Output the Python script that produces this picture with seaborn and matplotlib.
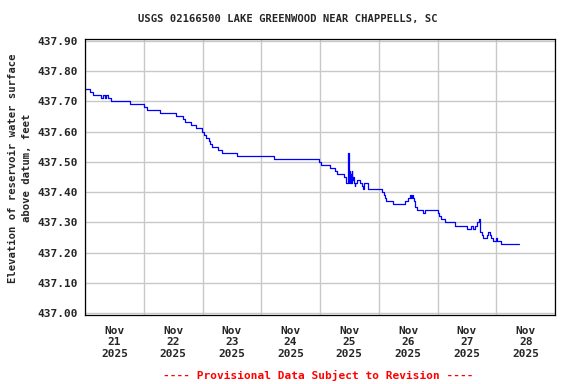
import pandas as pd
import matplotlib
matplotlib.use("Agg")
import matplotlib.pyplot as plt
import matplotlib.dates as mdates
import seaborn as sns

# ---------- Data ----------

START = pd.Timestamp("2025-11-21 00:00")

# hours after START where the stage changes, and the stage (ft) from then on
hours = [
    0.0, 2.0, 3.25, 6.5, 7.25, 8.0, 8.75, 9.25, 10.5, 18.25,
    24.0, 25.25, 30.5, 37.0, 40.0, 41.0, 43.25, 45.5, 47.75,
    48.5, 49.5, 50.5, 51.25, 52.0, 54.25, 56.0, 62.0, 77.25,
    95.5, 96.5, 100.0, 102.0, 102.75, 106.0, 106.5, 106.75,
    107.25, 107.5, 107.75, 108.0, 108.25, 108.5, 108.75, 109.0,
    109.25, 109.5, 109.75, 110.25, 110.5, 111.25, 112.25, 113.0,
    113.5, 114.0, 115.5, 121.25, 122.0, 122.5, 123.0, 126.0,
    130.75, 131.75, 132.75, 133.0, 133.75, 134.0, 134.5, 135.0,
    135.5, 138.25, 139.0, 144.0, 144.5, 145.25, 147.25, 151.0,
    156.0, 157.75, 158.5, 159.5, 160.25, 160.75, 161.25, 161.5,
    162.0, 162.5, 164.25, 164.75, 165.5, 166.0, 166.75, 168.0,
    168.5, 170.0, 177.25,
]
elevation_ft = [
    437.74, 437.73, 437.72, 437.71, 437.72, 437.71, 437.72, 437.71, 437.70, 437.69,
    437.68, 437.67, 437.66, 437.65, 437.64, 437.63, 437.62, 437.61, 437.60,
    437.59, 437.58, 437.57, 437.56, 437.55, 437.54, 437.53, 437.52, 437.51,
    437.50, 437.49, 437.48, 437.47, 437.46, 437.45, 437.44, 437.43,
    437.48, 437.53, 437.43, 437.47, 437.43, 437.46, 437.43, 437.47,
    437.44, 437.45, 437.43, 437.42, 437.43, 437.44, 437.43, 437.42,
    437.41, 437.43, 437.41, 437.40, 437.39, 437.38, 437.37, 437.36,
    437.37, 437.38, 437.39, 437.38, 437.39, 437.38, 437.37, 437.35,
    437.34, 437.33, 437.34, 437.33, 437.32, 437.31, 437.30, 437.29,
    437.28, 437.29, 437.28, 437.29, 437.30, 437.31, 437.29, 437.27,
    437.26, 437.25, 437.26, 437.27, 437.26, 437.25, 437.24, 437.25,
    437.24, 437.23, 437.23,
]

TITLE = "USGS 02166500 LAKE GREENWOOD NEAR CHAPPELLS, SC"
YLABEL = "Elevation of reservoir water surface\nabove datum, feet"
FOOTER = "---- Provisional Data Subject to Revision ----"

df = pd.DataFrame({
    "time": START + pd.to_timedelta(hours, unit="h"),
    "elev": elevation_ft,
})

# ---------- Plot ----------

sns.set_style("white")
plt.rcParams["font.family"] = ["DejaVu Sans Mono"]
plt.rcParams["font.weight"] = "bold"

fig = plt.figure(figsize=(5.76, 3.84), dpi=100)
ax = fig.add_axes([85 / 576, 1 - 315 / 384, 470 / 576, 276 / 384])

sns.lineplot(data=df, x="time", y="elev", ax=ax, color="#0000ff",
             linewidth=0.9, drawstyle="steps-post", estimator=None)

ax.set_xlim(START, START + pd.Timedelta(days=8))
ax.set_ylim(436.995, 437.905)
ax.set_yticks([437.0 + 0.1 * i for i in range(10)])
ax.yaxis.set_major_formatter(plt.FormatStrFormatter("%.2f"))

# gridlines at midnight, labels at noon
ax.xaxis.set_major_locator(mdates.DayLocator())
ax.xaxis.set_major_formatter(plt.NullFormatter())
ax.xaxis.set_minor_locator(mdates.HourLocator(byhour=12))
ax.xaxis.set_minor_formatter(mdates.DateFormatter("%b\n%d\n%Y"))

ax.grid(True, which="major", color="#c8c8c8", linewidth=1.0)
ax.tick_params(axis="both", which="both", length=0, labelsize=8)
ax.tick_params(axis="x", which="minor", pad=8)
ax.tick_params(axis="y", pad=5)
for lbl in ax.get_xticklabels(minor=True):
    lbl.set_fontweight("bold")
    lbl.set_linespacing(1.15)
for lbl in ax.get_yticklabels():
    lbl.set_fontweight("bold")

for sp in ax.spines.values():
    sp.set_color("black")
    sp.set_linewidth(0.9)

ax.set_xlabel("")
ax.set_ylabel("")

fig.text(0.5, 1 - 19 / 384, TITLE, ha="center", va="center",
         fontsize=7.6, fontweight="bold")
fig.text(20 / 576, 1 - 168 / 384, YLABEL, ha="center", va="center",
         rotation=90, fontsize=7.6, fontweight="bold", linespacing=1.4)
fig.text(318 / 576, 1 - 375 / 384, FOOTER, ha="center", va="center",
         fontsize=8, fontweight="bold", color="red")

fig.savefig("out.png", dpi=100)
